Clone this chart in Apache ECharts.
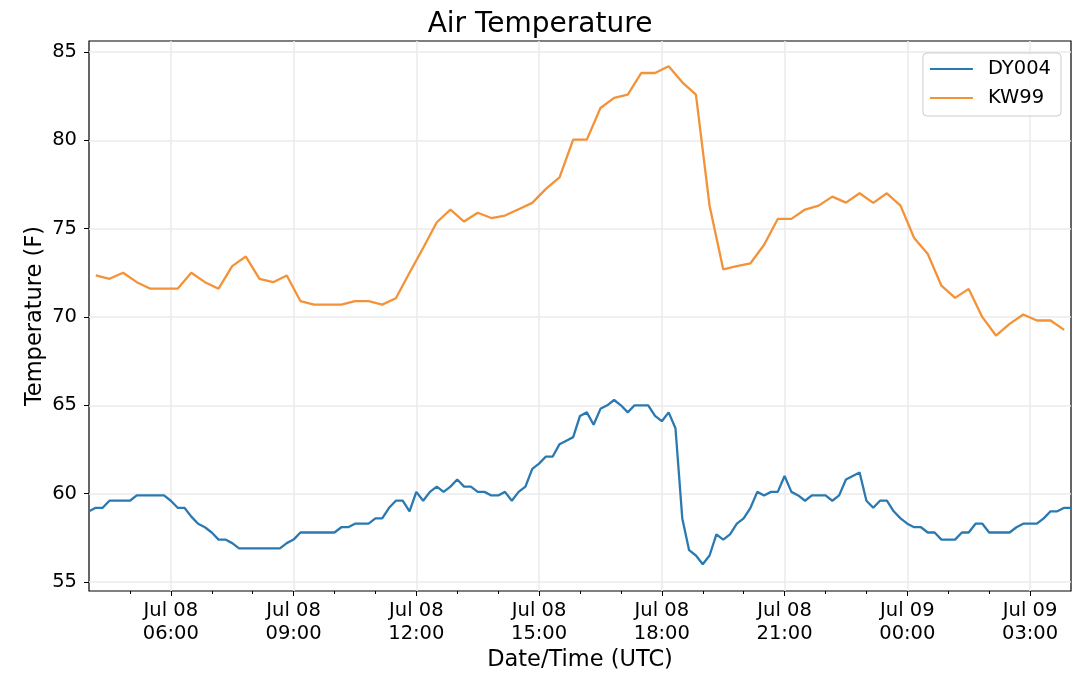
<!DOCTYPE html>
<html>
<head>
<meta charset="utf-8">
<title>Air Temperature</title>
<script src="https://cdn.jsdelivr.net/npm/echarts@6/dist/echarts.min.js"></script>
<style>
  html, body { margin: 0; padding: 0; background: #fff; }
  #main { width: 1080px; height: 688px; }
</style>
</head>
<body>
<div id="main"></div>
<script>
// DY004 reports every 10 min from Jul 08 04:00 UTC, KW99 every 20 min from 04:10
const dy004Temp = [
  59.0, 59.2, 59.2, 59.6, 59.6, 59.6, 59.6, 59.9, 59.9, 59.9, 59.9, 59.9,
  59.6, 59.2, 59.2, 58.7, 58.3, 58.1, 57.8, 57.4, 57.4, 57.2, 56.9, 56.9,
  56.9, 56.9, 56.9, 56.9, 56.9, 57.2, 57.4, 57.8, 57.8, 57.8, 57.8, 57.8,
  57.8, 58.1, 58.1, 58.3, 58.3, 58.3, 58.6, 58.6, 59.2, 59.6, 59.6, 59.0,
  60.1, 59.6, 60.1, 60.4, 60.1, 60.4, 60.8, 60.4, 60.4, 60.1, 60.1, 59.9,
  59.9, 60.1, 59.6, 60.1, 60.4, 61.4, 61.7, 62.1, 62.1, 62.8, 63.0, 63.2,
  64.4, 64.6, 63.9, 64.8, 65.0, 65.3, 65.0, 64.6, 65.0, 65.0, 65.0, 64.4,
  64.1, 64.6, 63.7, 58.6, 56.8, 56.5, 56.0, 56.5, 57.7, 57.4, 57.7, 58.3,
  58.6, 59.2, 60.1, 59.9, 60.1, 60.1, 61.0, 60.1, 59.9, 59.6, 59.9, 59.9,
  59.9, 59.6, 59.9, 60.8, 61.0, 61.2, 59.6, 59.2, 59.6, 59.6, 59.0, 58.6,
  58.3, 58.1, 58.1, 57.8, 57.8, 57.4, 57.4, 57.4, 57.8, 57.8, 58.3, 58.3,
  57.8, 57.8, 57.8, 57.8, 58.1, 58.3, 58.3, 58.3, 58.6, 59.0, 59.0, 59.2,
  59.2
];
const kw99Temp = [
  72.35, 72.16, 72.5, 71.97, 71.6, 71.6, 71.6, 72.5, 71.97, 71.6, 72.88, 73.42,
  72.16, 71.97, 72.35, 70.9, 70.7, 70.7, 70.7, 70.9, 70.9, 70.7, 71.06, 72.5,
  73.9, 75.36, 76.08, 75.4, 75.9, 75.6, 75.74, 76.1, 76.46, 77.25, 77.9, 80.04,
  80.04, 81.83, 82.4, 82.59, 83.81, 83.81, 84.19, 83.28, 82.59, 76.3, 72.7, 72.88,
  73.04, 74.09, 75.55, 75.55, 76.08, 76.3, 76.81, 76.47, 77.0, 76.46, 77.0, 76.3,
  74.47, 73.56, 71.77, 71.08, 71.59, 69.99, 68.95, 69.61, 70.14, 69.8, 69.8, 69.27
];

// times are hours after Jul 08 00:00 UTC
const dy004Start = 4;
const dy004Step = 10 / 60;
const kw99Start = 4 + 10 / 60;
const kw99Step = 20 / 60;

const xMin = 4;
const xMax = 28;
const xTickHours = [6, 9, 12, 15, 18, 21, 24, 27];
const xTickLabels = ['Jul 08\n06:00', 'Jul 08\n09:00', 'Jul 08\n12:00', 'Jul 08\n15:00',
  'Jul 08\n18:00', 'Jul 08\n21:00', 'Jul 09\n00:00', 'Jul 09\n03:00'];
const yTicks = [55, 60, 65, 70, 75, 80, 85];

const font = 'DejaVu Sans';
const xMinor = [];
for (let h = 5; h <= 27; h++) xMinor.push(h);

const chart = echarts.init(document.getElementById('main'));
chart.setOption({
  animation: false,
  backgroundColor: '#fff',
  title: {
    text: 'Air Temperature',
    left: 'center',
    top: 6,
    textStyle: { fontFamily: font, fontSize: 28, fontWeight: 'normal', color: '#000' }
  },
  grid: {
    left: 89, right: 9, top: 41, bottom: 97,
    show: true, borderColor: '#000', borderWidth: 1.2, backgroundColor: 'transparent'
  },
  legend: {
    orient: 'vertical',
    right: 19,
    top: 53,
    icon: 'rect',
    itemWidth: 43,
    itemHeight: 2,
    itemGap: 9,
    padding: [6, 10, 8, 7],
    backgroundColor: 'rgba(255,255,255,0.8)',
    borderColor: '#cccccc',
    borderWidth: 1,
    borderRadius: 4,
    textStyle: { fontFamily: font, fontSize: 19.5, color: '#000', padding: [0, 0, 0, 10] },
    data: ['DY004', 'KW99']
  },
  xAxis: [{
    type: 'value',
    min: xMin,
    max: xMax,
    name: 'Date/Time (UTC)',
    nameLocation: 'middle',
    nameGap: 58,
    nameMoveOverlap: false,
    nameTextStyle: { fontFamily: font, fontSize: 22.5, color: '#000' },
    axisLine: { show: false },
    axisTick: { show: true, length: 5, customValues: xTickHours, lineStyle: { color: '#000', width: 1 } },
    axisLabel: {
      customValues: xTickHours,
      margin: 8,
      fontFamily: font, fontSize: 19.5, color: '#000', lineHeight: 23,
      formatter: v => {
        const i = xTickHours.indexOf(v);
        return i >= 0 ? xTickLabels[i] : '';
      }
    },
    splitLine: { show: true, lineStyle: { color: '#ebebeb', width: 1.5 } }
  }, {
    type: 'value',
    min: xMin,
    max: xMax,
    position: 'bottom',
    axisLine: { show: false },
    axisTick: { show: true, length: 3, customValues: xMinor, lineStyle: { color: '#000', width: 1 } },
    axisLabel: { show: false },
    splitLine: { show: false }
  }],
  yAxis: {
    type: 'value',
    min: 54.49,
    max: 85.62,
    name: 'Temperature (F)',
    nameLocation: 'middle',
    nameGap: 42,
    nameMoveOverlap: false,
    nameTextStyle: { fontFamily: font, fontSize: 22.5, color: '#000' },
    axisLine: { show: false },
    axisTick: { show: true, length: 5, customValues: yTicks, lineStyle: { color: '#000', width: 1 } },
    axisLabel: { customValues: yTicks, margin: 12, fontFamily: font, fontSize: 19.5, color: '#000' },
    splitLine: { show: true, lineStyle: { color: '#ebebeb', width: 1.5 } }
  },
  series: [{
    name: 'DY004',
    type: 'line',
    xAxisIndex: 0,
    color: '#2b79b1',
    symbol: 'none',
    lineStyle: { width: 2.3 },
    data: dy004Temp.map((v, i) => [dy004Start + i * dy004Step, v])
  }, {
    name: 'KW99',
    type: 'line',
    xAxisIndex: 0,
    color: '#f39237',
    symbol: 'none',
    lineStyle: { width: 2.3 },
    data: kw99Temp.map((v, i) => [kw99Start + i * kw99Step, v])
  }]
});
</script>
</body>
</html>
